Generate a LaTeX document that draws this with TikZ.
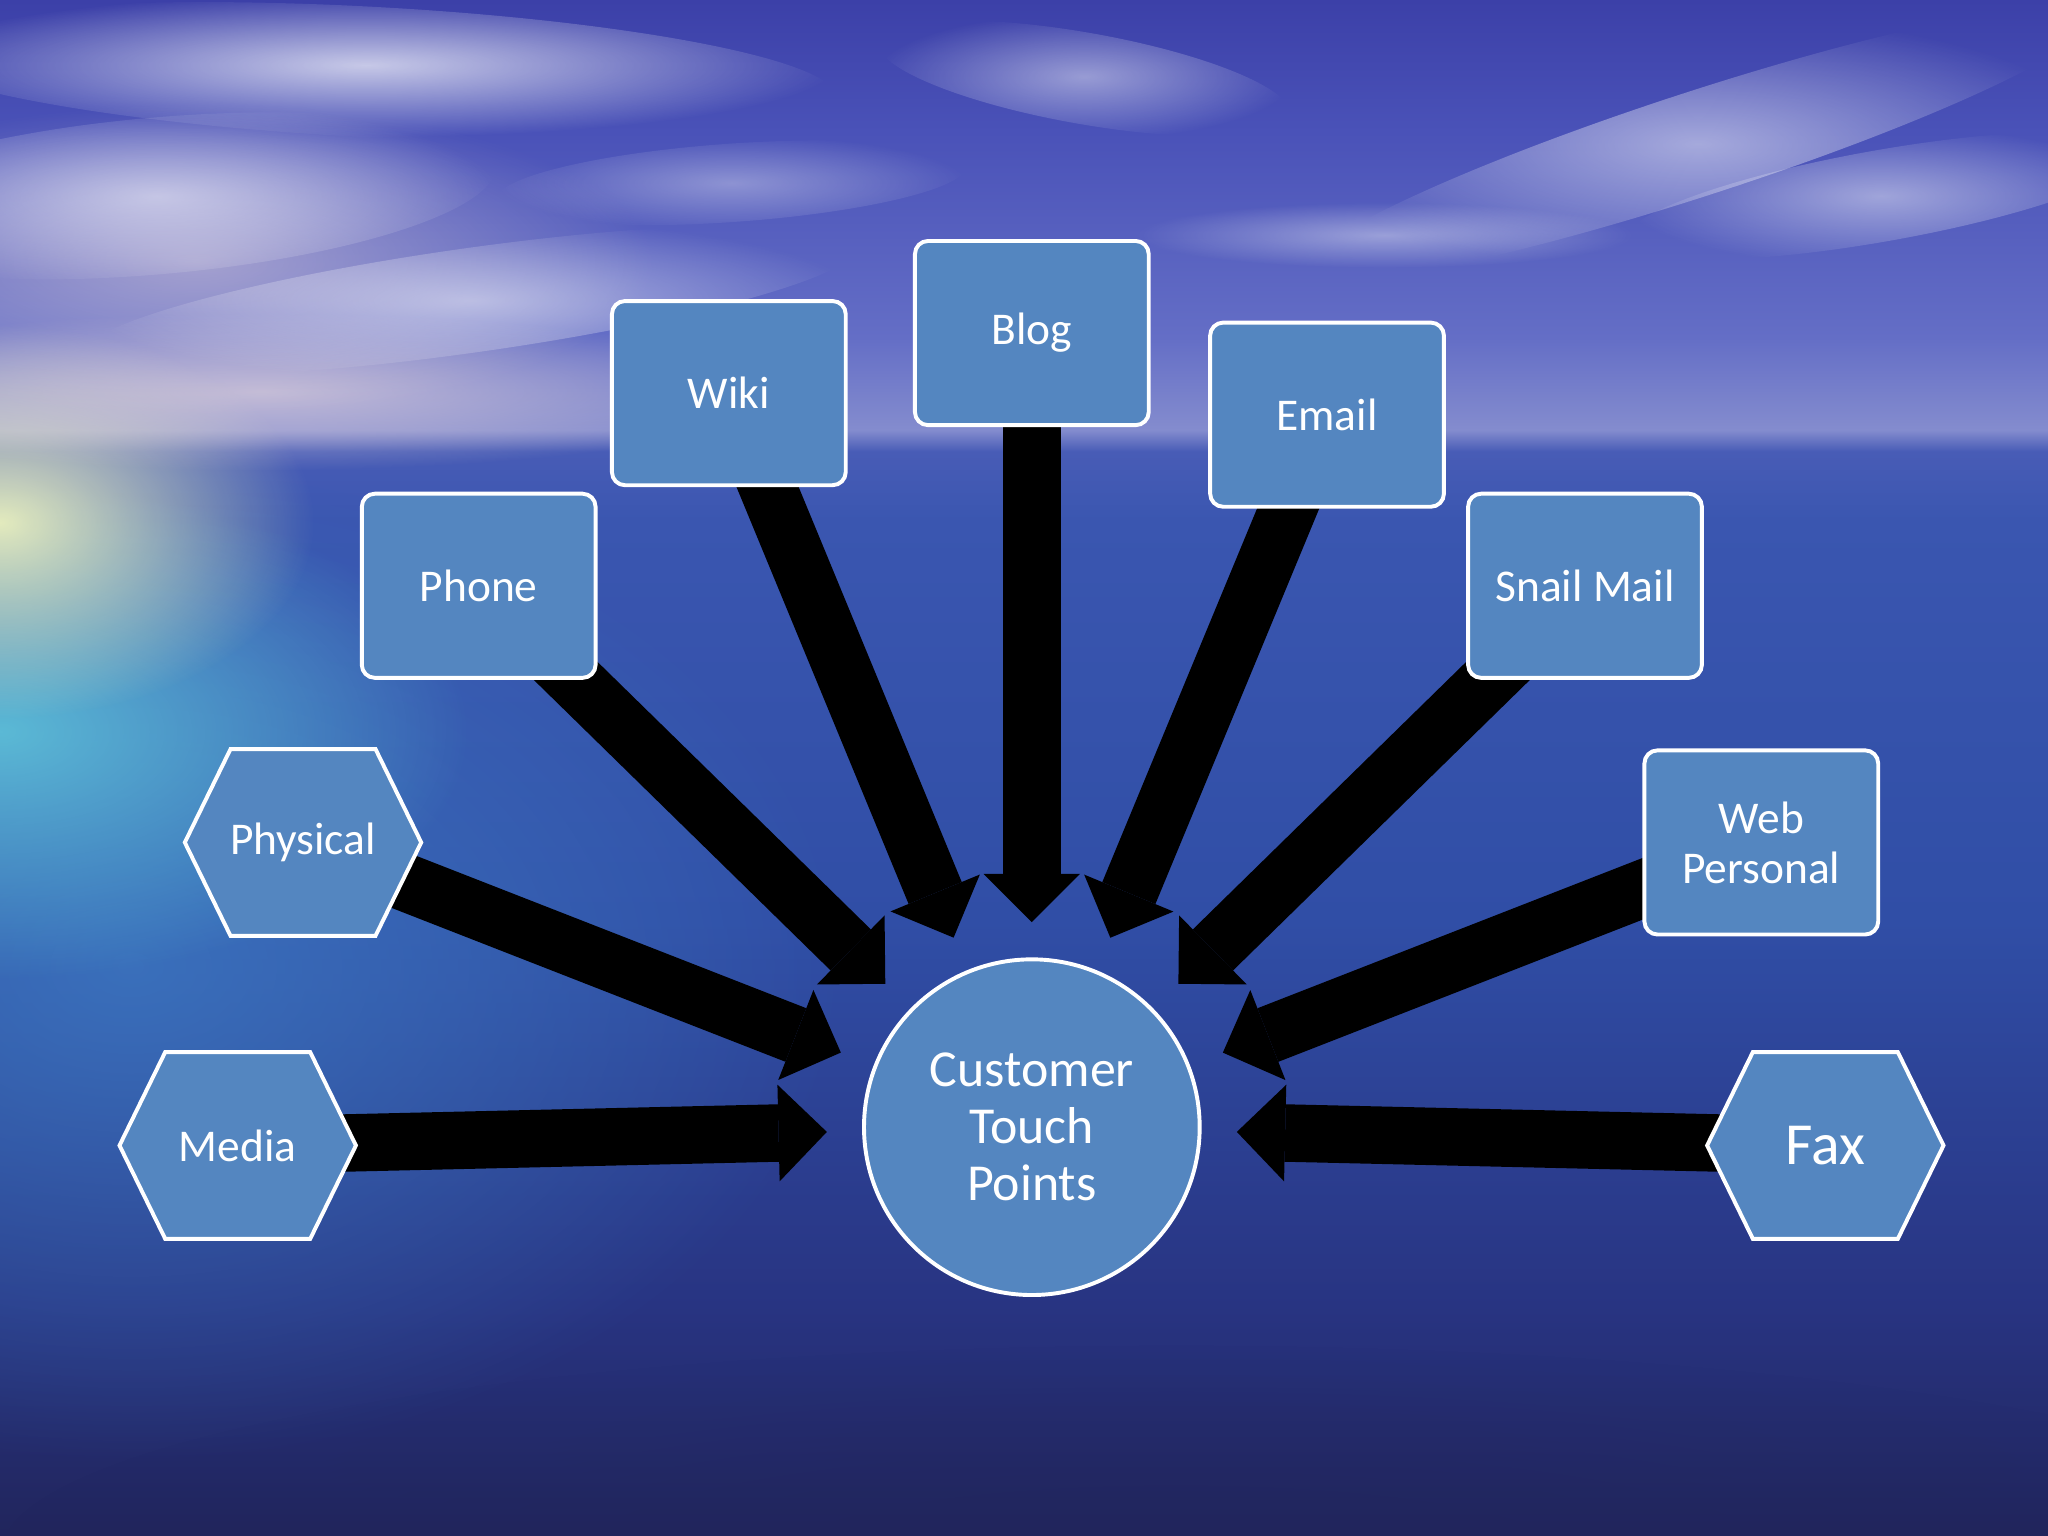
\documentclass[tikz,border=0pt]{standalone}
\usepackage{fontspec}
\setmainfont{Carlito}
\usetikzlibrary{arrows.meta,calc,fadings}
\definecolor{boxblue}{RGB}{84,134,192}
\definecolor{sky0}{RGB}{60,64,168}
\definecolor{sky1}{RGB}{74,82,184}
\definecolor{sky2}{RGB}{100,110,198}
\definecolor{haze}{RGB}{132,140,206}
\definecolor{sea0}{RGB}{72,92,182}
\definecolor{sea1}{RGB}{58,86,176}
\definecolor{sea2}{RGB}{48,78,166}
\definecolor{sea3}{RGB}{40,52,130}
\definecolor{sea4}{RGB}{33,37,92}
\definecolor{sunyel}{RGB}{236,242,190}
\definecolor{suncyan}{RGB}{100,208,222}
\definecolor{teal}{RGB}{62,124,196}
\definecolor{pinkhaze}{RGB}{226,212,220}
\pgfdeclareverticalshading{skysea}{100bp}{color(0bp)=(sea4); color(25bp)=(sea4); color(32.5bp)=(sea3); color(45bp)=(sea2); color(58bp)=(sea1); color(60.3bp)=(sea0); color(61bp)=(haze); color(64bp)=(sky2); color(70.7bp)=(sky1); color(75bp)=(sky0); color(100bp)=(sky0)}
\tikzfading[name=soft, inner color=transparent!0, outer color=transparent!100]
\pgfdeclarelayer{back}
\pgfdeclarelayer{arrowlayer}
\pgfsetlayers{back,arrowlayer,main}
\tikzset{
  box/.style={rectangle, rounded corners=0.1cm, fill=boxblue, draw=white, line width=0.03cm,
    minimum width=1.79cm, minimum height=1.41cm, text=white, align=center, inner sep=0pt,
    font=\fontsize{9.9}{10.9}\selectfont},
  hexshape/.style={fill=boxblue, draw=white, line width=0.03cm, line join=miter},
  hextext/.style={text=white, align=center, inner sep=0pt, font=\fontsize{9.9}{11}\selectfont},
  hub/.style={circle, fill=boxblue, draw=white, line width=0.03cm, minimum size=2.57cm,
    text=white, align=center, inner sep=0pt, font=\fontsize{11.3}{12.4}\selectfont},
  bigarrow/.style={draw=black, line width=0.44cm,
    -{Triangle[width=0.74cm,length=0.37cm,line width=0pt]}},
  cloud/.style={fill=white, path fading=soft}
}
\newcommand\hexat[2]{%
  \path[hexshape] (#1-0.905,#2) -- (#1-0.555,#2+0.715) -- (#1+0.555,#2+0.715)
    -- (#1+0.905,#2) -- (#1+0.555,#2-0.715) -- (#1-0.555,#2-0.715) -- cycle;}
\begin{document}
\begin{tikzpicture}
\useasboundingbox (0,0) rectangle (15.68,-11.76);
\begin{pgfonlayer}{back}
\clip (0,0) rectangle (15.68,-11.76);
\shade[shading=skysea] (0,0) rectangle (15.68,-11.76);
% lighter teal water on the left
\fill[teal, opacity=0.75, path fading=soft] (1.0,-7.4) ellipse (5.5 and 3.8);
% sun glow
\fill[suncyan, opacity=0.8, path fading=soft] (0.0,-5.6) ellipse (3.6 and 1.9);
\fill[sunyel, opacity=0.95, path fading=soft] (0.0,-4.0) ellipse (2.4 and 1.5);
\fill[pinkhaze, opacity=0.7, path fading=soft] (2.0,-3.0) ellipse (4.0 and 0.6);
\fill[pinkhaze, opacity=0.55, path fading=soft] (1.5,-2.0) ellipse (3.5 and 1.2);
% clouds
\fill[cloud, opacity=0.7] [shift={(2.8,-0.55)}, rotate=-3] (0,0) ellipse (3.6 and 0.5);
\fill[cloud, opacity=0.55] [shift={(1.2,-1.5)}, rotate=5] (0,0) ellipse (2.6 and 0.6);
\fill[cloud, opacity=0.5] [shift={(3.6,-2.3)}, rotate=8] (0,0) ellipse (3.0 and 0.4);
\fill[cloud, opacity=0.45] [shift={(8.3,-0.6)}, rotate=-10] (0,0) ellipse (1.6 and 0.35);
\fill[cloud, opacity=0.5] [shift={(13.0,-1.1)}, rotate=18] (0,0) ellipse (3.2 and 0.4);
\fill[cloud, opacity=0.45] [shift={(14.4,-1.5)}, rotate=10] (0,0) ellipse (2.0 and 0.35);
\fill[cloud, opacity=0.4] [shift={(10.6,-1.8)}, rotate=0] (0,0) ellipse (1.9 and 0.25);
\fill[cloud, opacity=0.35] [shift={(5.6,-1.4)}, rotate=4] (0,0) ellipse (1.8 and 0.3);
% dark bottom
\fill[sea4, opacity=0.5, path fading=soft] (9.0,-11.9) ellipse (9.0 and 1.6);
\end{pgfonlayer}

% centre
\node[hub] (cc) at (7.90,-8.63) {Customer\\Touch\\Points};

% boxes
\node[box] (blog)  at (7.90,-2.55)   {Blog};
\node[box] (wiki)  at (5.58,-3.01)   {Wiki};
\node[box] (email) at (10.16,-3.175) {Email};
\node[box] (phone) at (3.665,-4.485) {Phone};
\node[box] (snail) at (12.135,-4.485) {Snail Mail};
\node[box] (web) at (13.485,-6.45) {Web\\Personal};

% hexagons
\hexat{2.32}{-6.45}
\node[hextext] (physical) at (2.32,-6.45) {Physical};
\hexat{1.82}{-8.77}
\node[hextext] (media) at (1.82,-8.77) {Media};
\hexat{13.975}{-8.77}
\node[hextext, font=\fontsize{13}{14}\selectfont] (fax) at (13.975,-8.77) {Fax};

% arrows
\begin{pgfonlayer}{arrowlayer}
\foreach \n in {media,physical,phone,wiki,blog,email,snail,web,fax}
  \draw[bigarrow] (\n.center) -- ($(cc.center)!1.57cm!(\n.center)$);
\end{pgfonlayer}
\end{tikzpicture}
\end{document}
